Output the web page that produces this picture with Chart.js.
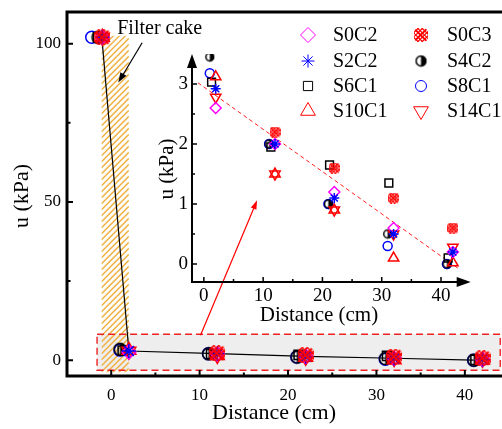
<!DOCTYPE html>
<html>
<head>
<meta charset="utf-8">
<script src="https://cdn.jsdelivr.net/npm/chart.js@4.4.1/dist/chart.umd.min.js"></script>
<style>
  html, body { margin: 0; padding: 0; background: #fff; overflow: hidden; }
  #wrap { position: relative; width: 502px; height: 429px; }
  #main { position: absolute; left: 0; top: 0; }
  #inset { position: absolute; left: 140px; top: 20px; }
</style>
</head>
<body>
<div id="wrap">
  <canvas id="main" width="502" height="429"></canvas>
  <canvas id="inset" width="362" height="310"></canvas>
</div>
<script>
// distances (cm); first entry is the filter cake point
const distA  = [-1.5, 1, 11, 21, 31, 41];
const distS8 = [-2.2, 1, 11, 21, 31, 41];
const distS6 = [-1.5, 1.3, 11.3, 21.2, 31.2, 41.2];
const distB  = [-1, 2, 12, 22, 32, 42];

// pore pressure u (kPa)
const uS0C2  = [102, 2.6, 2.0, 1.2, 0.6, 0.2];
const uS2C2  = [102, 2.92, 2.0, 1.1, 0.5, 0.2];
const uS6C1  = [102, 3.03, 1.95, 1.65, 1.35, 0.1];
const uS10C1 = [102, 3.12, 1.5, 0.9, 0.1, 0.02];
const uS0C3  = [102, null, 2.2, 1.6, 1.1, 0.6];
const uS4C2  = [102, 3.45, 2.0, 1.0, 0.5, 0.0];
const uS8C1  = [102, 3.18, 2.0, 1.0, 0.3, 0.0];
const uS14C1 = [102, 2.78, 1.5, 0.9, 0.5, 0.28];

// black mean line in main plot, red dashed fit in inset
const trendX = [-1, 2, 12, 22, 32, 41];
const trendY = [100, 2.9, 2.05, 1.2, 0.6, 0.0];
const fitX = [-1, 43];
const fitY = [3.02, -0.08];

const xTicks = [0, 10, 20, 30, 40];
const xMinor = [5, 15, 25, 35];
const yTicksMain = [0, 50, 100];
const yMinorMain = [25, 75];
const yTicksInset = [0, 1, 2, 3];
const yMinorInset = [0.5, 1.5, 2.5];

const FONT = "'Liberation Serif', 'Times New Roman', serif";

function makeCross(d) {
  const c = document.createElement('canvas');
  c.width = c.height = d;
  const g = c.getContext('2d');
  g.save();
  g.beginPath();
  const m = d * 0.22;
  g.moveTo(m, 0); g.lineTo(d - m, 0); g.lineTo(d, m); g.lineTo(d, d - m);
  g.lineTo(d - m, d); g.lineTo(m, d); g.lineTo(0, d - m); g.lineTo(0, m);
  g.closePath();
  g.clip();
  g.strokeStyle = '#ff0000';
  g.lineWidth = Math.max(1.1, d / 12);
  const step = d / 3.2;
  for (let k = -d; k <= 2 * d; k += step) {
    g.beginPath(); g.moveTo(k, 0); g.lineTo(k + d, d); g.stroke();
    g.beginPath(); g.moveTo(k, d); g.lineTo(k + d, 0); g.stroke();
  }
  g.lineWidth = Math.max(1.2, d / 10);
  g.beginPath(); g.moveTo(0, 0); g.lineTo(d, d); g.moveTo(d, 0); g.lineTo(0, d); g.stroke();
  g.restore();
  return c;
}

function makeHalf(d) {
  const c = document.createElement('canvas');
  c.width = c.height = d + 2;
  const g = c.getContext('2d');
  const cx = (d + 2) / 2, r = d / 2;
  g.fillStyle = '#000';
  g.beginPath();
  g.arc(cx, cx, r, -Math.PI / 2, Math.PI / 2);
  g.closePath();
  g.fill();
  g.beginPath();
  g.arc(cx, cx, r - 0.6, 0, 2 * Math.PI);
  g.lineWidth = 1.5;
  g.strokeStyle = '#000';
  g.stroke();
  return c;
}

// sizes: [main, inset, legend]
const crossImg = [makeCross(16), makeCross(11), makeCross(14)];
const halfImg = [makeHalf(13), makeHalf(9), makeHalf(11)];

const series = [
  { name: 'S0C2',  x: distB,  y: uS0C2,  color: '#ff00ff', style: 'rectRot',  rot: 0,   size: [7, 5.5, 7.5], order: 2 },
  { name: 'S2C2',  x: distB,  y: uS2C2,  color: '#0000ff', style: 'star',     rot: 0,   size: [7, 5, 6.5],   order: 1 },
  { name: 'S6C1',  x: distS6, y: uS6C1,  color: '#000000', style: 'rect',     rot: 0,   size: [6.5, 5.5, 6.5], order: 6 },
  { name: 'S10C1', x: distB,  y: uS10C1, color: '#ff0000', style: 'triangle', rot: 0,   size: [8, 6, 8.5],   order: 4 },
  { name: 'S0C3',  x: distB,  y: uS0C3,  color: '#ff0000', style: 'cross',    rot: 0,   size: [6, 6, 6],     order: 0 },
  { name: 'S4C2',  x: distA,  y: uS4C2,  color: '#000000', style: 'half',     rot: 0,   size: [6, 6, 6],     order: 5 },
  { name: 'S8C1',  x: distS8, y: uS8C1,  color: '#0000ff', style: 'circle',   rot: 0,   size: [6, 4.5, 5.5], order: 7 },
  { name: 'S14C1', x: distB,  y: uS14C1, color: '#ff0000', style: 'triangle', rot: 180, size: [8, 6, 8.5],   order: 3 }
];

function styleOf(s, k) {
  if (s.style === 'cross') return crossImg[k];
  if (s.style === 'half') return halfImg[k];
  return s.style;
}

function pts(xs, ys) {
  return xs.map((v, i) => ({ x: v, y: ys[i] })).filter(p => p.y !== null);
}

function fixedTicks(vals) {
  return scale => { scale.ticks = vals.map(v => ({ value: v })); };
}

function fitSize(w, h) {
  return scale => {
    if (w !== null) scale.width = w;
    if (h !== null) scale.height = h;
    scale.paddingLeft = 0; scale.paddingRight = 0;
    scale.paddingTop = 0; scale.paddingBottom = 0;
  };
}

function markerSet(s, k, data) {
  return {
    label: s.name,
    data: data,
    showLine: false,
    pointStyle: styleOf(s, k),
    pointRadius: s.size[k],
    pointBorderColor: s.color,
    pointBackgroundColor: 'rgba(0,0,0,0)',
    pointBorderWidth: 1.5,
    pointRotation: s.rot,
    order: s.order
  };
}

function arrow(ctx, x1, y1, x2, y2, color, lw, hl, hw) {
  const a = Math.atan2(y2 - y1, x2 - x1);
  ctx.save();
  ctx.strokeStyle = color;
  ctx.fillStyle = color;
  ctx.lineWidth = lw;
  ctx.beginPath();
  ctx.moveTo(x1, y1);
  ctx.lineTo(x2 - Math.cos(a) * hl * 0.8, y2 - Math.sin(a) * hl * 0.8);
  ctx.stroke();
  ctx.beginPath();
  ctx.moveTo(x2, y2);
  ctx.lineTo(x2 - Math.cos(a) * hl + Math.sin(a) * hw, y2 - Math.sin(a) * hl - Math.cos(a) * hw);
  ctx.lineTo(x2 - Math.cos(a) * hl - Math.sin(a) * hw, y2 - Math.sin(a) * hl + Math.cos(a) * hw);
  ctx.closePath();
  ctx.fill();
  ctx.restore();
}

function drawTicks(ctx, chart, xs, ys, major, minor, xMin, yMin, lw) {
  const a = chart.chartArea, sx = chart.scales.x, sy = chart.scales.y;
  ctx.save();
  ctx.strokeStyle = '#000';
  ctx.lineWidth = lw;
  ctx.beginPath();
  xs.forEach(v => { const p = sx.getPixelForValue(v); ctx.moveTo(p, a.bottom); ctx.lineTo(p, a.bottom - major); });
  xMin.forEach(v => { const p = sx.getPixelForValue(v); ctx.moveTo(p, a.bottom); ctx.lineTo(p, a.bottom - minor); });
  ys.forEach(v => { const p = sy.getPixelForValue(v); ctx.moveTo(a.left, p); ctx.lineTo(a.left + major, p); });
  yMin.forEach(v => { const p = sy.getPixelForValue(v); ctx.moveTo(a.left, p); ctx.lineTo(a.left + minor, p); });
  ctx.stroke();
  ctx.restore();
}

// ---------- main chart ----------
const mainDecor = {
  id: 'mainDecor',
  beforeDatasetsDraw(chart) {
    const ctx = chart.ctx, sx = chart.scales.x, sy = chart.scales.y;
    // grey zoom box
    const bx1 = sx.getPixelForValue(-1.6), bx2 = sx.getPixelForValue(44.0);
    const by1 = sy.getPixelForValue(8.2), by2 = sy.getPixelForValue(-3.2);
    ctx.save();
    ctx.fillStyle = '#eeeeee';
    ctx.fillRect(bx1, by1, bx2 - bx1, by2 - by1);
    // filter cake hatch
    const hx1 = sx.getPixelForValue(-1.1), hx2 = sx.getPixelForValue(2.0);
    const hy1 = sy.getPixelForValue(102.5), hy2 = sy.getPixelForValue(-3.8);
    ctx.beginPath();
    ctx.rect(hx1, hy1, hx2 - hx1, hy2 - hy1);
    ctx.clip();
    ctx.strokeStyle = '#f0b040';
    ctx.lineWidth = 1.4;
    const w = hx2 - hx1;
    for (let y = hy1; y <= hy2 + w; y += 6) {
      ctx.beginPath();
      ctx.moveTo(hx1, y);
      ctx.lineTo(hx2, y - w);
      ctx.stroke();
    }
    ctx.restore();
  },
  afterDatasetsDraw(chart) {
    const ctx = chart.ctx, sx = chart.scales.x, sy = chart.scales.y;
    const bx1 = sx.getPixelForValue(-1.6), bx2 = sx.getPixelForValue(44.0);
    const by1 = sy.getPixelForValue(8.2), by2 = sy.getPixelForValue(-3.2);
    ctx.save();
    ctx.strokeStyle = '#ee2222';
    ctx.lineWidth = 1.4;
    ctx.setLineDash([7, 4]);
    ctx.strokeRect(bx1, by1, bx2 - bx1, by2 - by1);
    ctx.restore();
    // red arrow to the inset
    arrow(ctx, sx.getPixelForValue(10.1), sy.getPixelForValue(7.9),
      sx.getPixelForValue(16.5), sy.getPixelForValue(50.5), '#ff0000', 1.2, 9, 3);
    // filter cake label
    arrow(ctx, sx.getPixelForValue(3.5), sy.getPixelForValue(100.3),
      sx.getPixelForValue(0.8), sy.getPixelForValue(87.7), '#000', 1.2, 10, 3.5);
    ctx.save();
    ctx.fillStyle = '#000';
    ctx.font = '20px ' + FONT;
    ctx.textBaseline = 'middle';
    ctx.textAlign = 'left';
    ctx.fillText('Filter cake', sx.getPixelForValue(0.68), sy.getPixelForValue(104.7));
    ctx.restore();
  },
  afterDraw(chart) {
    const ctx = chart.ctx, a = chart.chartArea;
    ctx.save();
    ctx.strokeStyle = '#000';
    ctx.lineWidth = 3;
    ctx.beginPath();
    ctx.moveTo(a.right + 2, a.top);
    ctx.lineTo(a.left, a.top);
    ctx.lineTo(a.left, a.bottom);
    ctx.lineTo(a.right + 2, a.bottom);
    ctx.stroke();
    ctx.restore();
    drawTicks(ctx, chart, xTicks, yTicksMain, 6, 3.5, xMinor, yMinorMain, 2);
    ctx.save();
    ctx.fillStyle = '#000';
    ctx.font = '22px ' + FONT;
    ctx.textAlign = 'center';
    ctx.textBaseline = 'middle';
    ctx.fillText('Distance (cm)', a.left + 207, 413);
    ctx.translate(22, (a.top + a.bottom) / 2 + 2);
    ctx.rotate(-Math.PI / 2);
    ctx.fillText('u (kPa)', 0, 0);
    ctx.restore();
  }
};

const mainSets = series.map(s => markerSet(s, 0, pts(s.x, s.y)));
mainSets.push({
  label: 'mean',
  data: pts(trendX, trendY),
  showLine: true,
  borderColor: '#000',
  borderWidth: 1.2,
  pointRadius: 0,
  order: 10
});

new Chart(document.getElementById('main'), {
  type: 'scatter',
  data: { datasets: mainSets },
  options: {
    responsive: false,
    animation: false,
    layout: { autoPadding: false, padding: { top: 12, right: 0, left: 0, bottom: 0 } },
    plugins: { legend: { display: false }, tooltip: { enabled: false } },
    scales: {
      x: {
        type: 'linear', min: -5, max: 44.2,
        grid: { display: false, drawTicks: false },
        border: { display: false },
        ticks: { font: { family: FONT, size: 17 }, color: '#000', padding: 9, maxRotation: 0 },
        afterBuildTicks: fixedTicks(xTicks),
        afterFit: fitSize(null, 53)
      },
      y: {
        type: 'linear', min: -5, max: 110,
        grid: { display: false, drawTicks: false },
        border: { display: false },
        ticks: { font: { family: FONT, size: 17 }, color: '#000', padding: 6 },
        afterBuildTicks: fixedTicks(yTicksMain),
        afterFit: fitSize(67, null)
      }
    }
  },
  plugins: [mainDecor]
});

// ---------- inset chart ----------
const insetDecor = {
  id: 'insetDecor',
  afterDraw(chart) {
    const ctx = chart.ctx, a = chart.chartArea;
    ctx.save();
    ctx.strokeStyle = '#000';
    ctx.lineWidth = 2;
    ctx.beginPath();
    ctx.moveTo(a.left, a.top + 10);
    ctx.lineTo(a.left, a.bottom);
    ctx.lineTo(a.right - 8, a.bottom);
    ctx.stroke();
    ctx.fillStyle = '#000';
    ctx.beginPath();
    ctx.moveTo(a.left, a.top);
    ctx.lineTo(a.left - 5, a.top + 14);
    ctx.lineTo(a.left + 5, a.top + 14);
    ctx.closePath();
    ctx.fill();
    ctx.beginPath();
    ctx.moveTo(a.right + 3, a.bottom);
    ctx.lineTo(a.right - 11, a.bottom - 5);
    ctx.lineTo(a.right - 11, a.bottom + 5);
    ctx.closePath();
    ctx.fill();
    ctx.restore();
    drawTicks(ctx, chart, xTicks, yTicksInset, 5, 3, xMinor, yMinorInset, 1.5);
    ctx.save();
    ctx.fillStyle = '#000';
    ctx.font = '21px ' + FONT;
    ctx.textAlign = 'center';
    ctx.textBaseline = 'middle';
    ctx.fillText('Distance (cm)', 179, 295);
    ctx.translate(27, 149);
    ctx.rotate(-Math.PI / 2);
    ctx.fillText('u (kPa)', 0, 0);
    ctx.restore();
    // legend, two columns
    const colMark = [168, 281], colText = [193, 307], rows = [15, 41, 66, 91];
    ctx.save();
    ctx.font = '20px ' + FONT;
    ctx.textBaseline = 'middle';
    ctx.textAlign = 'left';
    series.forEach((s, i) => {
      const col = Math.floor(i / 4), row = i % 4;
      ctx.strokeStyle = s.color;
      ctx.fillStyle = 'rgba(0,0,0,0)';
      Chart.helpers.drawPoint(ctx, {
        pointStyle: styleOf(s, 2), radius: s.size[2], rotation: s.rot, borderWidth: 1.5
      }, colMark[col], rows[row]);
      ctx.fillStyle = '#000';
      ctx.fillText(s.name, colText[col], rows[row] + 1);
    });
    ctx.restore();
  }
};

const insetSets = series.map(s => markerSet(s, 1, pts(s.x.slice(1), s.y.slice(1))));
insetSets.push({
  label: 'fit',
  data: pts(fitX, fitY),
  showLine: true,
  borderColor: '#ff2020',
  borderWidth: 1,
  borderDash: [4, 3],
  pointRadius: 0,
  order: 10
});

new Chart(document.getElementById('inset'), {
  type: 'scatter',
  data: { datasets: insetSets },
  options: {
    responsive: false,
    animation: false,
    layout: { autoPadding: false, padding: { top: 34, right: 34.3, left: 0, bottom: 0 } },
    plugins: { legend: { display: false }, tooltip: { enabled: false } },
    scales: {
      x: {
        type: 'linear', min: -2, max: 44.5,
        grid: { display: false, drawTicks: false },
        border: { display: false },
        ticks: { font: { family: FONT, size: 19 }, color: '#000', padding: 3, maxRotation: 0 },
        afterBuildTicks: fixedTicks(xTicks),
        afterFit: fitSize(null, 48)
      },
      y: {
        type: 'linear', min: -0.3, max: 3.5,
        grid: { display: false, drawTicks: false },
        border: { display: false },
        ticks: { font: { family: FONT, size: 19 }, color: '#000', padding: 4 },
        afterBuildTicks: fixedTicks(yTicksInset),
        afterFit: fitSize(52, null)
      }
    }
  },
  plugins: [insetDecor]
});
</script>
</body>
</html>
